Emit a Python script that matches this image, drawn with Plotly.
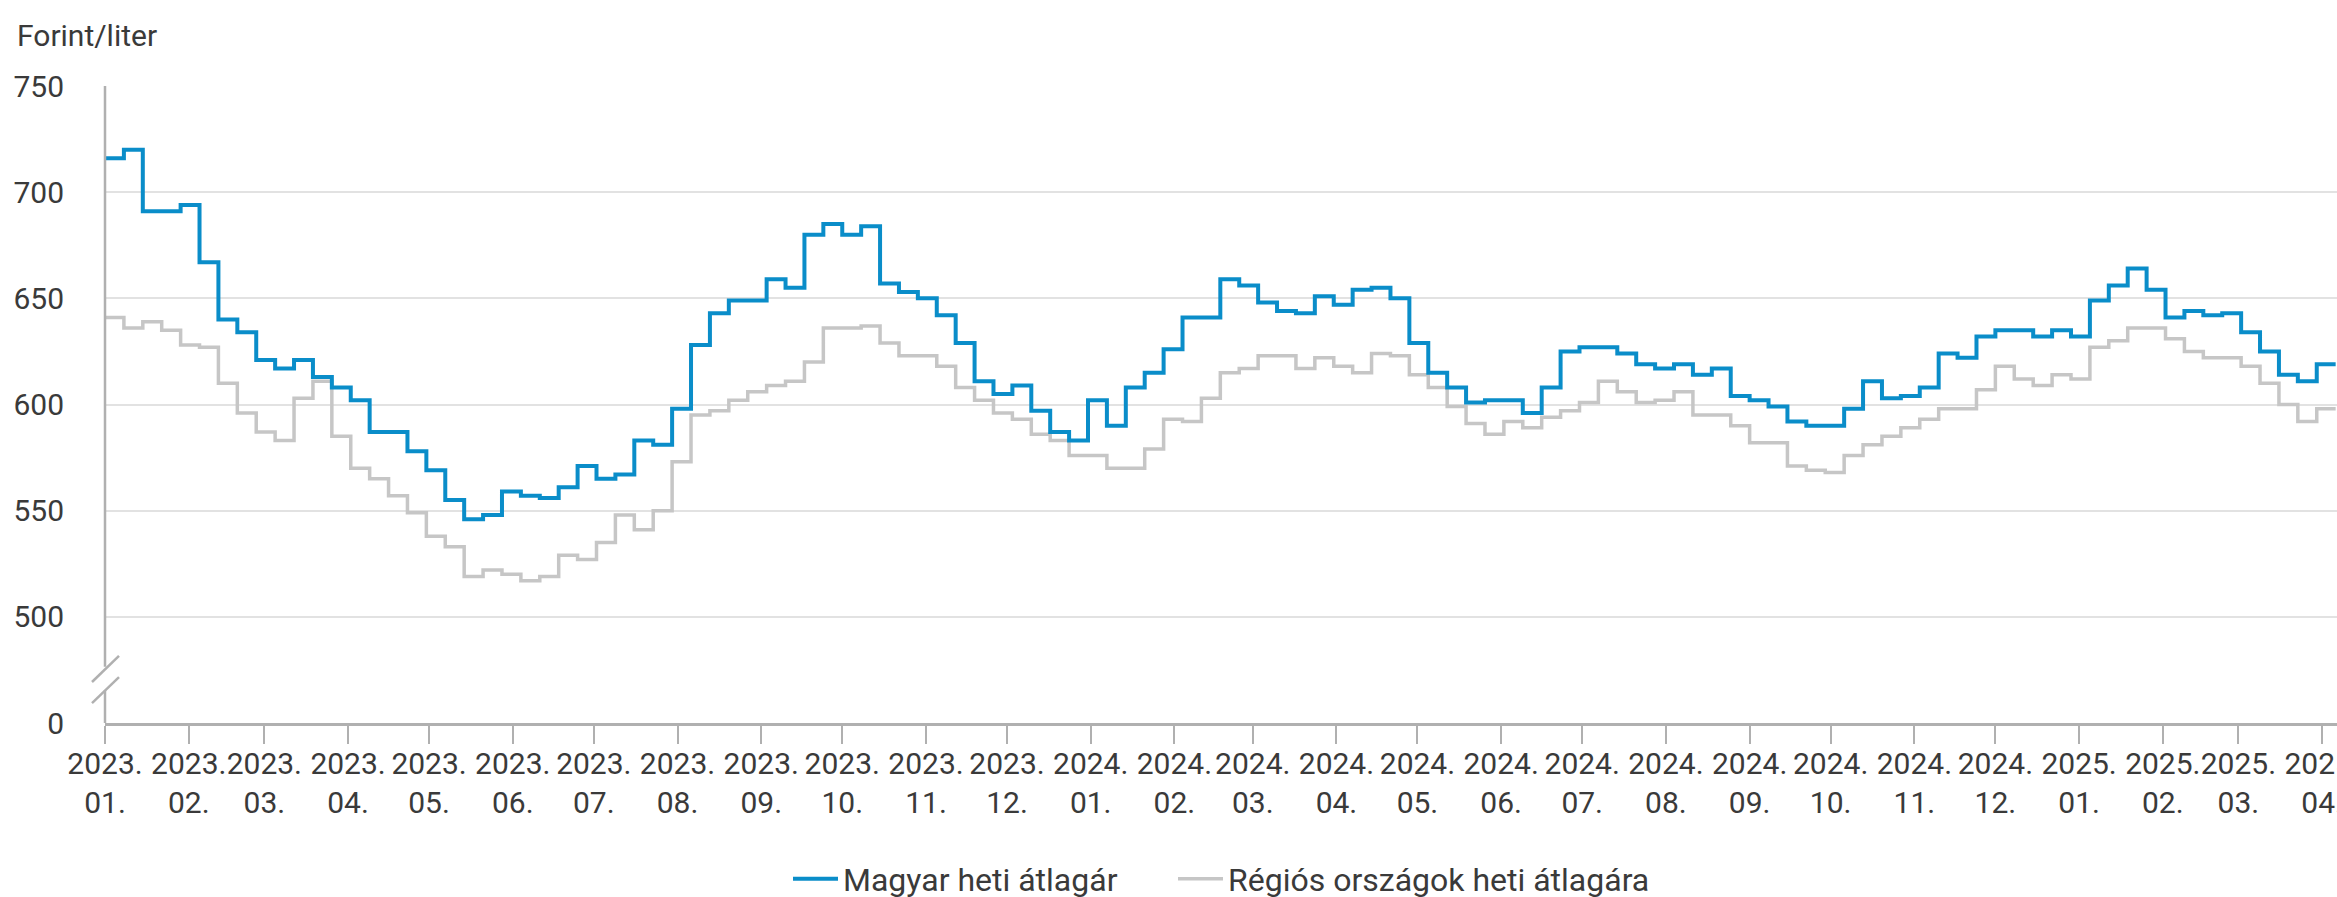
import pandas as pd
import plotly.graph_objects as go

# ---- data (weekly averages, Forint/liter) ----
week_start = "2023-01-01"
hu_weekly = [716, 720, 691, 691, 694, 667, 640, 634, 621, 617, 621, 613, 608, 602, 587, 587,
             578, 569, 555, 546, 548, 559, 557, 556, 561, 571, 565, 567, 583, 581, 598, 628,
             643, 649, 649, 659, 655, 680, 685, 680, 684, 657, 653, 650, 642, 629, 611, 605,
             609, 597, 587, 583, 602, 590, 608, 615, 626, 641, 641, 659, 656, 648, 644, 643,
             651, 647, 654, 655, 650, 629, 615, 608, 601, 602, 602, 596, 608, 625, 627, 627,
             624, 619, 617, 619, 614, 617, 604, 602, 599, 592, 590, 590, 598, 611, 603, 604,
             608, 624, 622, 632, 635, 635, 632, 635, 632, 649, 656, 664, 654, 641, 644, 642,
             643, 634, 625, 614, 611, 619, 619]
region_weekly = [641, 636, 639, 635, 628, 627, 610, 596, 587, 583, 603, 611, 585, 570, 565, 557,
                 549, 538, 533, 519, 522, 520, 517, 519, 529, 527, 535, 548, 541, 550, 573, 595,
                 597, 602, 606, 609, 611, 620, 636, 636, 637, 629, 623, 623, 618, 608, 602, 596,
                 593, 586, 583, 576, 576, 570, 570, 579, 593, 592, 603, 615, 617, 623, 623, 617,
                 622, 618, 615, 624, 623, 614, 608, 599, 591, 586, 592, 589, 594, 597, 601, 611,
                 606, 601, 602, 606, 595, 595, 590, 582, 582, 571, 569, 568, 576, 581, 585, 589,
                 593, 598, 598, 607, 618, 612, 609, 614, 612, 627, 630, 636, 636, 631, 625, 622,
                 622, 618, 610, 600, 592, 598, 598]
series_names = ["Magyar heti átlagár", "Régiós országok heti átlagára"]

dates = pd.date_range(week_start, periods=len(hu_weekly), freq="7D")

# month tick labels
months = pd.date_range("2023-01-01", "2025-04-01", freq="MS")
month_labels = [f"{d.year}.<br>{d.month:02d}." for d in months]

# y axis with a break: 0 shown, then 500..750
y_tick_values = [450, 500, 550, 600, 650, 700, 750]
y_tick_labels = ["0", "500", "550", "600", "650", "700", "750"]

BLUE = "#0a8dc9"
GRAY = "#c6c6c6"
TXT = "#3a3a3a"
AX = "#b0b0b0"
FONT = "Roboto"

W, H = 2337, 897
ml, mt, mb, mr = 105, 86, 174, 0
plot_w = W - ml - mr
plot_h = H - mt - mb

def xp(px):
    return (px - ml) / plot_w

def ypx(py):
    return (H - mb - py) / plot_h

fig = go.Figure()
fig.add_trace(go.Scatter(x=dates, y=region_weekly, mode="lines", name=series_names[1],
                         line=dict(color=GRAY, width=3.5, shape="hv"), legend="legend2"))
fig.add_trace(go.Scatter(x=dates, y=hu_weekly, mode="lines", name=series_names[0],
                         line=dict(color=BLUE, width=4, shape="hv"), legend="legend"))

leg_common = dict(orientation="h", xanchor="left", yanchor="middle", y=ypx(879),
                  font=dict(size=32, color=TXT), itemwidth=45,
                  bgcolor="rgba(0,0,0,0)")
fig.update_layout(
    width=W, height=H,
    margin=dict(l=ml, r=mr, t=mt, b=mb, autoexpand=False),
    paper_bgcolor="white", plot_bgcolor="white",
    font=dict(family=FONT, size=30, color=TXT),
    showlegend=True,
    legend=dict(x=xp(788), **leg_common),
    legend2=dict(x=xp(1173), **leg_common),
    hovermode=False,
)

fig.update_xaxes(
    type="date",
    range=["2023-01-01", "2025-04-06 12:00"],
    tickvals=list(months), ticktext=month_labels, tickangle=0,
    ticks="outside", ticklen=18, tickwidth=2, tickcolor=AX,
    showline=True, linecolor=AX, linewidth=2.5,
    showgrid=False, zeroline=False,
    tickfont=dict(size=30, color=TXT),
    ticklabeloverflow="allow",
    ticklabelstandoff=-6,
    automargin=False,
)
fig.update_yaxes(
    range=[450, 750],
    tickvals=y_tick_values, ticktext=y_tick_labels,
    showgrid=True, gridcolor="#e2e2e2", gridwidth=2,
    showline=False, zeroline=False, ticks="",
    ticklabelstandoff=40,
    tickfont=dict(size=30, color=TXT),
    automargin=False,
)

# y axis line with a break and slash marks (paper coordinates)
def yp(v):
    return (v - 450) / 300.0

shapes = [
    dict(type="line", xref="paper", yref="paper", x0=0, x1=0, y0=yp(476.5), y1=1,
         line=dict(color=AX, width=2.5)),
    dict(type="line", xref="paper", yref="paper", x0=0, x1=0, y0=0, y1=yp(465.5),
         line=dict(color=AX, width=2.5)),
    dict(type="line", xref="paper", yref="paper", x0=xp(92), x1=xp(119), y0=yp(469.3), y1=yp(481.6),
         line=dict(color=AX, width=2.5)),
    dict(type="line", xref="paper", yref="paper", x0=xp(92), x1=xp(119), y0=yp(459.4), y1=yp(471.6),
         line=dict(color=AX, width=2.5)),
]
fig.update_layout(shapes=shapes)

fig.add_annotation(text="Forint/liter", xref="paper", yref="paper",
                   x=xp(15), xanchor="left", y=ypx(35), yanchor="middle",
                   showarrow=False, font=dict(size=30, color=TXT))

fig.write_html("out.html", config={"displayModeBar": False},
               post_script="document.body.style.margin='0';document.body.style.overflow='hidden';")
